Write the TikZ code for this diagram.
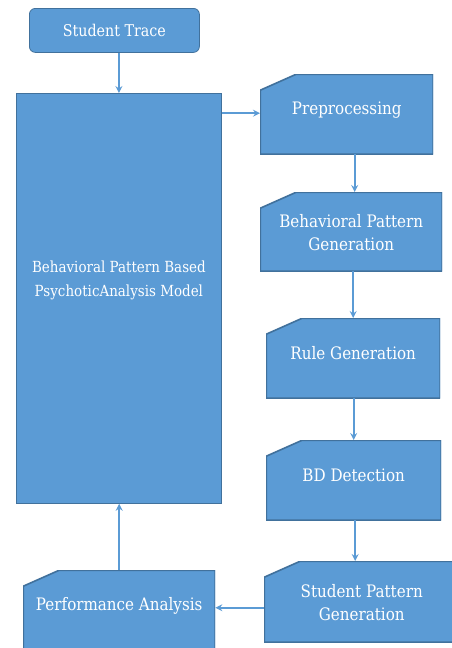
\documentclass[tikz,border=0pt]{standalone}
\usepackage{fontspec}
\setmainfont{DejaVu Serif}
\newfontfamily\serifb{DejaVu Serif}[FakeStretch=0.88]
\usetikzlibrary{arrows.meta,calc}
\definecolor{boxfill}{HTML}{5B9BD5}
\definecolor{boxline}{HTML}{41719C}
\definecolor{arrowc}{HTML}{5B9BD5}
\tikzset{
  cardbox/.style={draw=none, fill=none, anchor=north west, inner sep=0pt,
    path picture={
      \path[fill=boxfill, draw=boxline, line width=1.6pt]
        ([yshift=-16pt]path picture bounding box.north west) --
        ([xshift=36pt]path picture bounding box.north west) --
        (path picture bounding box.north east) --
        (path picture bounding box.south east) --
        (path picture bounding box.south west) -- cycle;
    }},
  plainbox/.style={fill=boxfill, draw=boxline, line width=0.8pt, anchor=north west, inner sep=0pt},
  lbl/.style={text=white, align=center, font=\serifb\fontsize{17.2}{23}\selectfont},
  arr/.style={draw=arrowc, line width=1.8pt, -{Stealth[length=7pt,width=7pt,inset=2.5pt]}}
}
\begin{document}
\begin{tikzpicture}[x=1pt,y=-1pt]
\useasboundingbox (0,0) rectangle (451,648);
\fill[white] (0,0) rectangle (451,648);

\node[plainbox, rounded corners=6pt, minimum width=170pt, minimum height=44pt,
      text=white, font=\serifb\fontsize{16.2}{22}\selectfont] (st) at (29,8) {Student Trace};

\node[plainbox, minimum width=205pt, minimum height=410pt] (big) at (16,93) {};
\node[text=white, align=center, font=\serifb\fontsize{15.3}{24}\selectfont]
  (bigtxt) at ($(big.center)+(0,-18)$) {Behavioral Pattern Based\\PsychoticAnalysis Model};

\node[cardbox, minimum width=173pt, minimum height=80pt,
      label={[lbl, yshift=4pt]center:Preprocessing}] (pre) at (260,74) {};
\node[cardbox, minimum width=182pt, minimum height=79pt,
      label={[lbl, yshift=-1pt]center:Behavioral Pattern\\Generation}] (bpg) at (260,192) {};
\node[cardbox, minimum width=174pt, minimum height=80pt,
      label={[lbl, yshift=5pt]center:Rule Generation}] (rule) at (266,318) {};
\node[cardbox, minimum width=175pt, minimum height=80pt,
      label={[lbl, yshift=5pt]center:BD Detection}] (bd) at (266,440) {};
\node[cardbox, minimum width=195pt, minimum height=81pt,
      label={[lbl, yshift=-1pt]center:Student Pattern\\Generation}] (spg) at (264,561) {};
\node[cardbox, minimum width=192pt, minimum height=90pt,
      label={[lbl, yshift=9pt]center:Performance Analysis}] (pa) at (23,570) {};

\coordinate (c1) at ($(pre.west)+(0,-1)$);
\coordinate (c2) at ($(pre.south)+(8,0)$);
\coordinate (c3) at ($(bd.south)+(1.5,0)$);
\coordinate (c4) at ($(spg.west)+(0,6)$);

\draw[arr] (big.north |- st.south) -- (big.north);
\draw[arr] (c1 -| big.east) -- (c1);
\draw[arr] (c2) -- (c2 |- bpg.north);
\draw[arr] (rule.north |- bpg.south) -- (rule.north);
\draw[arr] (bd.north |- rule.south) -- (bd.north);
\draw[arr] (c3) -- (c3 |- spg.north);
\draw[arr] (c4) -- (c4 -| pa.east);
\draw[arr] (pa.north) -- (pa.north |- big.south);
\end{tikzpicture}
\end{document}
